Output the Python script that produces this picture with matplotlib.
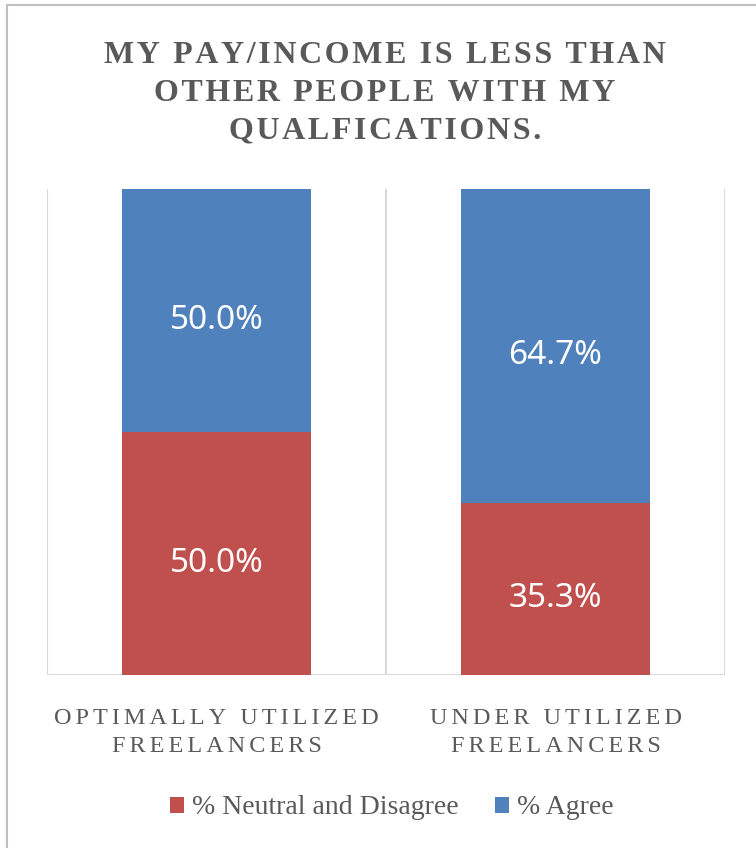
import numpy as np
import matplotlib.pyplot as plt
from matplotlib.patches import Rectangle

categories = ['OPTIMALLY UTILIZED\nFREELANCERS', 'UNDER UTILIZED\nFREELANCERS']
neutral_disagree = [50.0, 35.3]
agree = [50.0, 64.7]
series_names = ['% Neutral and Disagree', '% Agree']
title = 'MY PAY/INCOME IS LESS THAN\nOTHER PEOPLE WITH MY\nQUALFICATIONS.'

red = '#C0504D'
blue = '#4F81BD'
txt = '#595959'
grid = '#D9D9D9'
serif = ['Liberation Serif', 'DejaVu Serif']


def spaced(s, gap='\u200a'):
    # crude letter spacing: hair space between characters
    return '\n'.join(gap.join(line) for line in s.split('\n'))


fig = plt.figure(figsize=(7.56, 8.48), dpi=100)
ax = fig.add_axes([47 / 756, 1 - 675 / 848, 678 / 756, 486 / 848])

x = np.arange(len(categories))
w = 0.56
ax.bar(x, neutral_disagree, w, color=red, label=series_names[0], zorder=3)
ax.bar(x, agree, w, bottom=neutral_disagree, color=blue, label=series_names[1], zorder=3)

for i in range(len(x)):
    ax.text(x[i], neutral_disagree[i] / 2 - 2, f'{neutral_disagree[i]:.1f}%',
            ha='center', va='center', color='white', fontsize=24, family='Noto Sans', zorder=4)
    ax.text(x[i], neutral_disagree[i] + agree[i] / 2 - 2, f'{agree[i]:.1f}%',
            ha='center', va='center', color='white', fontsize=24, family='Noto Sans', zorder=4)

ax.set_xlim(-0.5, 1.5)
ax.set_ylim(0, 100)
ax.set_yticks([])
ax.set_xticks([])
# category separators
for xv in [-0.5, 0.5, 1.5]:
    ax.axvline(xv, color=grid, lw=1.5, zorder=1)
ax.axhline(0, color=grid, lw=1.5, zorder=1)
for s in ax.spines.values():
    s.set_visible(False)

for i, c in enumerate(categories):
    ax.text(x[i], -6.8, spaced(c, '\u200a\u200a'), ha='center', va='top',
            color=txt, fontsize=17.5, family=serif, linespacing=1.45, clip_on=False)

fig.text(0.509, 1 - 41 / 848, spaced(title), ha='center', va='top',
         color=txt, fontsize=23, fontweight='bold', family=serif, linespacing=1.4)

leg = fig.legend(loc='center', bbox_to_anchor=(0.518, 1 - 808 / 848), ncol=2, frameon=False,
                 handlelength=0.5, handleheight=0.5, handletextpad=0.3, columnspacing=1.3,
                 prop={'family': serif, 'size': 20})
for t in leg.get_texts():
    t.set_color(txt)

# outer chart frame
fig.add_artist(Rectangle((7 / 756, -0.1), 1.2, 1 - 5 / 848 + 0.1, transform=fig.transFigure,
                         fill=False, edgecolor='#BFBFBF', lw=1.5))

fig.savefig('out.png', dpi=100)
